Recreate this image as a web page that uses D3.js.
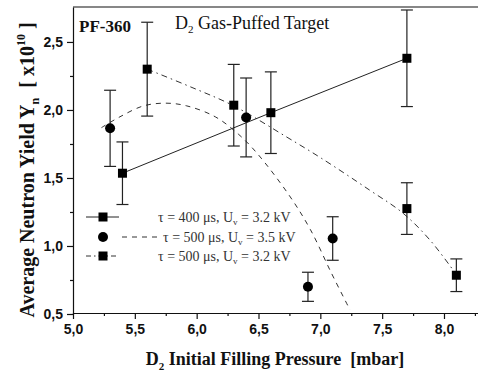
<!DOCTYPE html>
<html><head><meta charset="utf-8">
<script src="https://cdn.jsdelivr.net/npm/d3@7"></script>
<style>body{margin:0;background:#fff}svg{display:block}</style>
</head><body><svg id="c" width="478" height="372"></svg>
<script>
// Series: tau=400us, Uv=3.2kV (squares, solid line)
const s1X = [5.4, 6.6, 7.7];
const s1Y = [1.535, 1.98, 2.38];
const s1E = [0.23, 0.30, 0.355];
// Series: tau=500us, Uv=3.5kV (circles, dashed fit)
const s2X = [5.3, 6.4, 6.9, 7.1];
const s2Y = [1.865, 1.945, 0.70, 1.055];
const s2E = [0.28, 0.29, 0.107, 0.16];
// Series: tau=500us, Uv=3.2kV (squares, dash-dot fit)
const s3X = [5.6, 6.3, 7.7, 8.1];
const s3Y = [2.30, 2.035, 1.275, 0.785];
const s3E = [0.345, 0.30, 0.19, 0.12];
// Fit curves
const fit2X = [5.23, 5.38, 5.57, 5.75, 5.92, 6.15, 6.34, 6.49, 6.75, 6.92, 7.09, 7.24];
const fit2Y = [1.87, 1.95, 2.03, 2.05, 2.03, 1.95, 1.82, 1.68, 1.37, 1.12, 0.80, 0.53];
const fit3X = [5.6, 5.95, 6.3, 6.73, 7.0, 7.4, 7.67, 7.89, 8.1];
const fit3Y = [2.30, 2.17, 2.03, 1.80, 1.65, 1.41, 1.24, 1.04, 0.79];
// Ticks
const xTicks = [5.0, 5.5, 6.0, 6.5, 7.0, 7.5, 8.0];
const xTickLabels = ["5,0", "5,5", "6,0", "6,5", "7,0", "7,5", "8,0"];
const xMinor = [5.25, 5.75, 6.25, 6.75, 7.25, 7.75, 8.25];
const yTicks = [0.5, 1.0, 1.5, 2.0, 2.5];
const yTickLabels = ["0,5", "1,0", "1,5", "2,0", "2,5"];
const yMinor = [0.75, 1.25, 1.75, 2.25];
// Legend
const legendTau = ["400", "500", "500"];
const legendU = ["3.2", "3.5", "3.2"];

const svg = d3.select("#c");
const x = d3.scaleLinear().domain([5, 8.275]).range([73, 478]);
const y = d3.scaleLinear().domain([0.5, 2.757]).range([314, 7]);
const ink = "#111";
const serif = "'Liberation Serif','Times New Roman',serif";
const sans = "'Liberation Sans',Arial,sans-serif";

// Axes
svg.append("g").attr("transform", "translate(0,313)")
  .call(d3.axisBottom(x).tickValues(xTicks).tickFormat((d, i) => xTickLabels[i]).tickSize(6).tickSizeOuter(0).tickPadding(5));
svg.append("g").attr("transform", "translate(0,313)")
  .call(d3.axisBottom(x).tickValues(xMinor).tickFormat("").tickSize(3).tickSizeOuter(0))
  .select(".domain").remove();
svg.append("g").attr("transform", "translate(73,0)")
  .call(d3.axisLeft(y).tickValues(yTicks).tickFormat((d, i) => yTickLabels[i]).tickSize(6).tickSizeOuter(0).tickPadding(4));
svg.append("g").attr("transform", "translate(73,0)")
  .call(d3.axisLeft(y).tickValues(yMinor).tickFormat("").tickSize(3).tickSizeOuter(0))
  .select(".domain").remove();
svg.selectAll(".domain, .tick line").attr("stroke", ink).attr("stroke-width", 1.2);
svg.selectAll(".tick text").attr("font-family", sans).attr("font-weight", "bold")
  .attr("font-size", 14).attr("fill", ink);
// top frame
svg.append("line").attr("x1", x(5)).attr("x2", x(8.275)).attr("y1", y(2.757)).attr("y2", y(2.757))
  .attr("stroke", ink).attr("stroke-width", 1.2);

// Lines
const line = d3.line().x(d => x(d[0])).y(d => y(d[1]));
const smooth = d3.line().x(d => x(d[0])).y(d => y(d[1])).curve(d3.curveCatmullRom);
svg.append("path").attr("d", line(s1X.map((v, i) => [v, s1Y[i]])))
  .attr("fill", "none").attr("stroke", "#222").attr("stroke-width", 1);
svg.append("path").attr("d", smooth(fit2X.map((v, i) => [v, fit2Y[i]])))
  .attr("fill", "none").attr("stroke", "#333").attr("stroke-width", 1).attr("stroke-dasharray", "5,5");
svg.append("path").attr("d", smooth(fit3X.map((v, i) => [v, fit3Y[i]])))
  .attr("fill", "none").attr("stroke", "#333").attr("stroke-width", 1).attr("stroke-dasharray", "6,4,1.5,4");

// Error bars + markers
function errbars(X, Y, E) {
  const g = svg.append("g").attr("stroke", "#222").attr("stroke-width", 1.2);
  X.forEach((v, i) => {
    const cx = x(v), t = y(Y[i] + E[i]), b = y(Y[i] - E[i]);
    g.append("line").attr("x1", cx).attr("x2", cx).attr("y1", t).attr("y2", b);
    g.append("line").attr("x1", cx - 6).attr("x2", cx + 6).attr("y1", t).attr("y2", t);
    g.append("line").attr("x1", cx - 6).attr("x2", cx + 6).attr("y1", b).attr("y2", b);
  });
}
errbars(s1X, s1Y, s1E); errbars(s2X, s2Y, s2E); errbars(s3X, s3Y, s3E);
function squares(X, Y) {
  svg.append("g").selectAll("rect").data(X).join("rect")
    .attr("x", (d) => x(d) - 4.5).attr("y", (d, i) => y(Y[i]) - 4.5)
    .attr("width", 9).attr("height", 9).attr("fill", "#000");
}
squares(s1X, s1Y); squares(s3X, s3Y);
svg.append("g").selectAll("circle").data(s2X).join("circle")
  .attr("cx", d => x(d)).attr("cy", (d, i) => y(s2Y[i])).attr("r", 5).attr("fill", "#000");

// Legend
const rowsY = [217, 237, 256];
const textX = [158, 163, 158];
svg.append("line").attr("x1", 86).attr("x2", 119).attr("y1", rowsY[0]).attr("y2", rowsY[0]).attr("stroke", "#222");
svg.append("rect").attr("x", 98.5).attr("y", rowsY[0] - 4.5).attr("width", 9).attr("height", 9).attr("fill", "#000");
svg.append("circle").attr("cx", 103).attr("cy", rowsY[1]).attr("r", 5).attr("fill", "#000");
svg.append("line").attr("x1", 122).attr("x2", 158).attr("y1", rowsY[1]).attr("y2", rowsY[1]).attr("stroke", "#333").attr("stroke-dasharray", "5,5");
svg.append("line").attr("x1", 86).attr("x2", 119).attr("y1", rowsY[2]).attr("y2", rowsY[2]).attr("stroke", "#333").attr("stroke-dasharray", "5,3,1.5,3");
svg.append("rect").attr("x", 98.5).attr("y", rowsY[2] - 4.5).attr("width", 9).attr("height", 9).attr("fill", "#000");
legendTau.forEach((t, i) => {
  const tx = svg.append("text").attr("x", textX[i]).attr("y", rowsY[i] + 5)
    .attr("font-family", serif).attr("font-size", 14).attr("fill", "#333");
  tx.append("tspan").text("τ = " + t + " μs, U");
  tx.append("tspan").attr("font-size", 9).attr("dy", 3).text("v");
  tx.append("tspan").attr("dy", -3).text(" = " + legendU[i] + " kV");
});

// Annotations
svg.append("text").attr("x", 79).attr("y", 32).attr("font-family", serif).attr("font-weight", "bold")
  .attr("font-size", 17).attr("fill", ink).text("PF-360");
const ann = svg.append("text").attr("x", 175).attr("y", 29).attr("font-family", serif)
  .attr("font-size", 18).attr("fill", ink);
ann.append("tspan").text("D");
ann.append("tspan").attr("font-size", 11).attr("dy", 4).text("2");
ann.append("tspan").attr("dy", -4).text(" Gas-Puffed Target");

// Axis titles
const xt = svg.append("text").attr("x", 275).attr("y", 365).attr("text-anchor", "middle")
  .attr("font-family", serif).attr("font-weight", "bold").attr("font-size", 18).attr("fill", ink);
xt.append("tspan").text("D");
xt.append("tspan").attr("font-size", 11).attr("dy", 5).text("2");
xt.append("tspan").attr("dy", -5).text(" Initial Filling Pressure\u00a0\u00a0[mbar]");

const yt = svg.append("text").attr("transform", "translate(34,170) rotate(-90)").attr("text-anchor", "middle")
  .attr("font-family", serif).attr("font-weight", "bold").attr("font-size", 20).attr("fill", ink);
yt.append("tspan").text("Average Neutron Yield Y");
yt.append("tspan").attr("font-size", 12).attr("dy", 5).text("n");
yt.append("tspan").attr("dy", -5).text("\u00a0\u00a0[ x10");
yt.append("tspan").attr("font-size", 12).attr("dy", -9).text("10");
yt.append("tspan").attr("dy", 9).text("\u00a0]");
</script></body></html>
